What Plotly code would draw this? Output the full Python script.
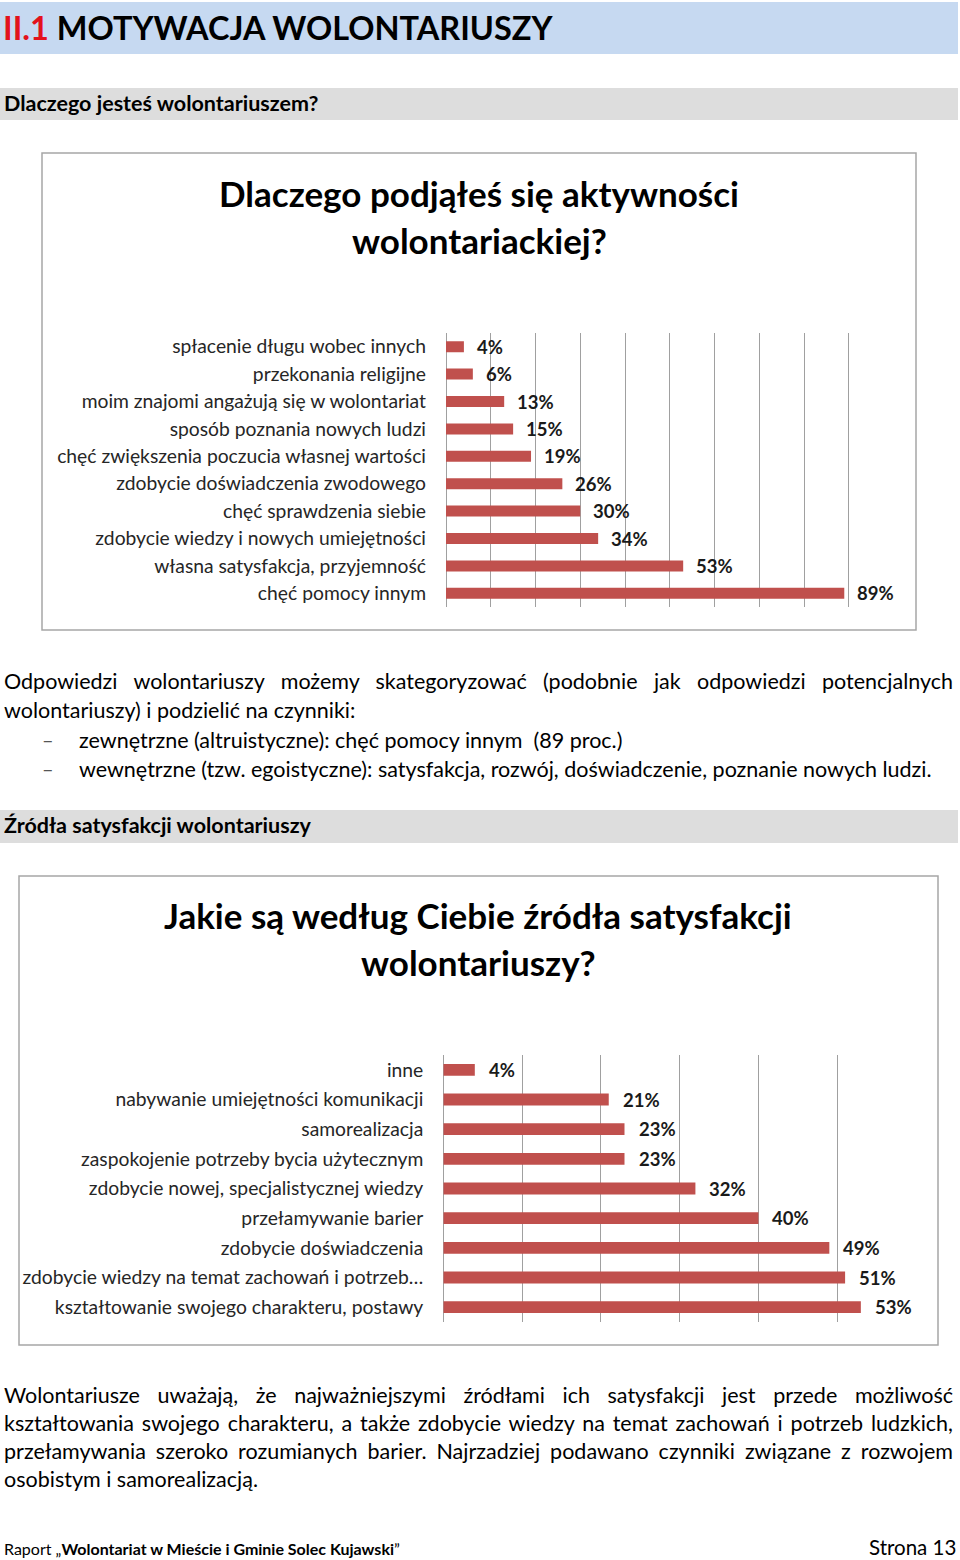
import json
import plotly.graph_objects as go

W, H = 960, 1560
FONT = "Lato"

# ---------------- data ----------------
cats1 = ["spłacenie długu wobec innych", "przekonania religijne",
         "moim znajomi angażują się w wolontariat", "sposób poznania nowych ludzi",
         "chęć zwiększenia poczucia własnej wartości", "zdobycie doświadczenia zwodowego",
         "chęć sprawdzenia siebie", "zdobycie wiedzy i nowych umiejętności",
         "własna satysfakcja, przyjemność", "chęć pomocy innym"]
vals1 = [4, 6, 13, 15, 19, 26, 30, 34, 53, 89]

cats2 = ["inne", "nabywanie umiejętności komunikacji", "samorealizacja",
         "zaspokojenie potrzeby bycia użytecznym", "zdobycie nowej, specjalistycznej wiedzy",
         "przełamywanie barier", "zdobycie doświadczenia",
         "zdobycie wiedzy na temat zachowań i potrzeb…",
         "kształtowanie swojego charakteru, postawy"]
vals2 = [4, 21, 23, 23, 32, 40, 49, 51, 53]

title1 = ["Dlaczego podjąłeś się aktywności", "wolontariackiej?"]
title2 = ["Jakie są według Ciebie źródła satysfakcji", "wolontariuszy?"]

para1 = ["Odpowiedzi wolontariuszy możemy skategoryzować (podobnie jak odpowiedzi potencjalnych",
         "wolontariuszy) i podzielić na czynniki:"]
bullets = ["zewnętrzne (altruistyczne): chęć pomocy innym  (89 proc.)",
           "wewnętrzne (tzw. egoistyczne): satysfakcja, rozwój, doświadczenie, poznanie nowych ludzi."]
para2 = ["Wolontariusze uważają, że najważniejszymi źródłami ich satysfakcji jest przede możliwość",
         "kształtowania swojego charakteru, a także zdobycie wiedzy na temat zachowań i potrzeb ludzkich,",
         "przełamywania szeroko rozumianych barier. Najrzadziej podawano czynniki związane z rozwojem",
         "osobistym i samorealizacją."]

BAR = "#c0504d"
GRID = "#a0a0a0"
BODY = 21.5


def px(x):
    return x / W


def py(y):
    return 1 - y / H


fig = go.Figure()

fig.add_trace(go.Bar(x=vals1, y=cats1, orientation="h", marker_color=BAR,
                     marker_line_width=0, xaxis="x", yaxis="y", hoverinfo="skip"))
fig.add_trace(go.Bar(x=vals2, y=cats2, orientation="h", marker_color=BAR,
                     marker_line_width=0, xaxis="x2", yaxis="y2", hoverinfo="skip"))

annotations = []
for v, c in zip(vals1, cats1):
    annotations.append(dict(x=v, y=c, xref="x", yref="y", text=f"{v}%", showarrow=False,
                            xanchor="left", yanchor="middle", xshift=11,
                            font=dict(family=FONT, size=18.5, color="#1a1a1a", weight="bold")))
for v, c in zip(vals2, cats2):
    annotations.append(dict(x=v, y=c, xref="x2", yref="y2", text=f"{v}%", showarrow=False,
                            xanchor="left", yanchor="middle", xshift=12,
                            font=dict(family=FONT, size=18.5, color="#1a1a1a", weight="bold")))


def txt(x, y, text, size=BODY, bold=False, anchor="left", color="#000000"):
    # compensate the small inner padding of annotation boxes
    shift = {"left": -3, "right": 3, "center": 0}[anchor]
    annotations.append(dict(x=px(x + shift), y=py(y), xref="paper", yref="paper", text=text,
                            showarrow=False, xanchor=anchor, yanchor="middle", align=anchor,
                            font=dict(family=FONT, size=size, color=color,
                                      weight="bold" if bold else "normal")))


# header
txt(4, 27, "<span style='color:#e3121b'>II.1</span> MOTYWACJA WOLONTARIUSZY", size=32.5, bold=True)
txt(5, 103, "Dlaczego jesteś wolontariuszem?", size=21.5, bold=True)
txt(5, 825, "Źródła satysfakcji wolontariuszy", size=21.5, bold=True)

# chart titles
txt(479, 193, title1[0], size=35, bold=True, anchor="center")
txt(479, 240, title1[1], size=35, bold=True, anchor="center")
txt(478, 915, title2[0], size=35, bold=True, anchor="center")
txt(478, 962, title2[1], size=35, bold=True, anchor="center")

# paragraph 1
txt(5, 681, para1[0])
txt(5, 710, para1[1])
txt(43, 739, "–", size=20, color="#555555")
txt(80, 740, bullets[0])
txt(43, 768, "–", size=20, color="#555555")
txt(80, 769, bullets[1])

# paragraph 2
for i, line in enumerate(para2):
    txt(5, 1395 + 28 * i, line)

# footer
txt(5, 1548, "Raport „<b>Wolontariat w Mieście i Gminie Solec Kujawski</b>”", size=16)
txt(955, 1547, "Strona 13", size=20.5, anchor="right")

shapes = [
    dict(type="rect", xref="paper", yref="paper", x0=px(0), x1=px(958), y0=py(2), y1=py(54),
         fillcolor="#c6d9f1", line_width=0, layer="below"),
    dict(type="rect", xref="paper", yref="paper", x0=px(0), x1=px(958), y0=py(88), y1=py(120),
         fillcolor="#dddddd", line_width=0, layer="below"),
    dict(type="rect", xref="paper", yref="paper", x0=px(0), x1=px(958), y0=py(810), y1=py(843),
         fillcolor="#dddddd", line_width=0, layer="below"),
    dict(type="rect", xref="paper", yref="paper", x0=px(42), x1=px(916), y0=py(153), y1=py(630),
         line=dict(color="#a6a6a6", width=1.5), fillcolor="rgba(0,0,0,0)", layer="below"),
    dict(type="rect", xref="paper", yref="paper", x0=px(19), x1=px(938), y0=py(876), y1=py(1345),
         line=dict(color="#a6a6a6", width=1.5), fillcolor="rgba(0,0,0,0)", layer="below"),
]

cat_font = dict(family=FONT, size=19.3, color="#262626")

fig.update_layout(
    width=W, height=H, margin=dict(l=0, r=0, t=0, b=0),
    paper_bgcolor="white", plot_bgcolor="white", showlegend=False,
    bargap=0.6,
    annotations=annotations, shapes=shapes,
    xaxis=dict(domain=[px(446), px(893.5)], range=[0, 100], dtick=10, showgrid=True,
               gridcolor=GRID, gridwidth=1, zeroline=True, zerolinecolor=GRID, zerolinewidth=1,
               showticklabels=False, showline=False, fixedrange=True),
    yaxis=dict(domain=[py(607), py(333)], anchor="x", autorange="reversed", showgrid=False,
               tickfont=cat_font, ticklabelstandoff=19, ticks="", showline=False, fixedrange=True),
    xaxis2=dict(domain=[px(443.3), px(916)], range=[0, 60], dtick=10, showgrid=True,
                gridcolor=GRID, gridwidth=1, zeroline=True, zerolinecolor=GRID, zerolinewidth=1,
                showticklabels=False, showline=False, anchor="y2", fixedrange=True),
    yaxis2=dict(domain=[py(1322), py(1055)], anchor="x2", autorange="reversed", showgrid=False,
                tickfont=cat_font, ticklabelstandoff=19, ticks="", showline=False, fixedrange=True),
)

# justify full lines (like the word processor did) by widening word spacing
justify_lines = [para1[0], para2[0], para2[1], para2[2]]
post = """
document.body.style.margin = '0px';
(function () {
  var gd = document.getElementById('{plot_id}');
  var targets = %s;
  var texts = gd.querySelectorAll('text.annotation-text');
  texts.forEach(function (t) {
    var s = t.textContent;
    if (targets.indexOf(s) >= 0) {
      var n = (s.match(/ /g) || []).length;
      var L = t.getComputedTextLength();
      var extra = (949 - L) / n;
      t.style.wordSpacing = extra + 'px';
    }
  });
})();
""" % json.dumps(justify_lines)

fig.write_html("out.html", post_script=post, config={"displayModeBar": False})
